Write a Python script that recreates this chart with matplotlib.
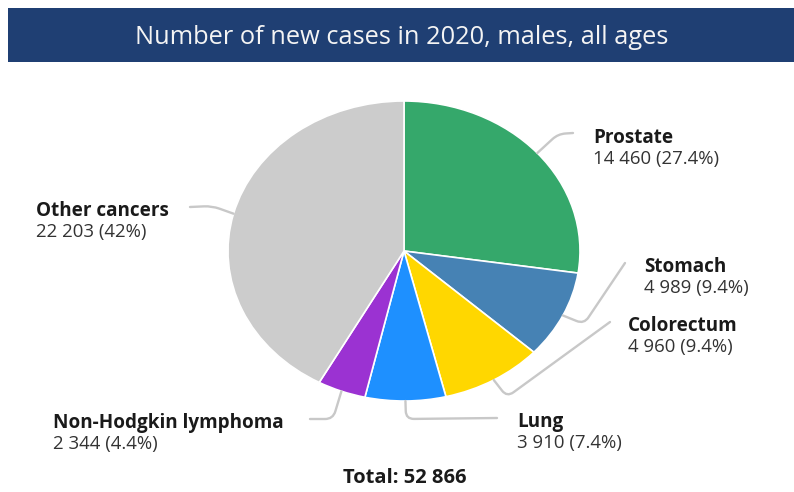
import matplotlib
matplotlib.use("Agg")
import matplotlib.pyplot as plt
import numpy as np
from matplotlib.path import Path
from matplotlib.patches import PathPatch, Rectangle

# Data
sites = ["Prostate", "Stomach", "Colorectum", "Lung", "Non-Hodgkin lymphoma", "Other cancers"]
cases = [14460, 4989, 4960, 3910, 2344, 22203]
shares = ["27.4%", "9.4%", "9.4%", "7.4%", "4.4%", "42%"]
colors = ["#35a86b", "#4682b4", "#ffd700", "#1e90ff", "#9b32d2", "#cccccc"]
title = "Number of new cases in 2020, males, all ages"

W, H = 794, 492
plt.rcParams["font.family"] = ["Open Sans", "DejaVu Sans"]
fig = plt.figure(figsize=(W / 100, H / 100), dpi=100)
fig.patch.set_facecolor("white")

# Pie (slightly wider than tall)
cx, cy, rx, ry = 404, 251, 176, 150
ax_pie = fig.add_axes([(cx - rx) / W, (H - cy - ry) / H, 2 * rx / W, 2 * ry / H])
wedges, _ = ax_pie.pie(cases, colors=colors, startangle=90, counterclock=False,
                       radius=1, wedgeprops=dict(edgecolor="white", linewidth=1.2))
ax_pie.set_aspect("auto")
ax_pie.set_xlim(-1, 1)
ax_pie.set_ylim(-1, 1)
ax_pie.axis("off")

# Pixel-space overlay for banner, connectors and labels
ov = fig.add_axes([0, 0, 1, 1], zorder=5)
ov.set_xlim(0, W)
ov.set_ylim(H, 0)
ov.axis("off")
ov.patch.set_alpha(0)

ov.add_patch(Rectangle((8, 8), W - 8, 54, facecolor="#1f3f73", edgecolor="none"))
ov.text(402, 37, title, color="#f4f4f4", fontsize=18.3, ha="center", va="center")


def rim_point(w):
    mid = np.deg2rad((w.theta1 + w.theta2) / 2)
    disp = ax_pie.transData.transform((np.cos(mid), np.sin(mid)))
    return ov.transData.inverted().transform(disp)


def connector(pts, r=8):
    """Polyline with rounded corners."""
    pts = [np.asarray(p, float) for p in pts]
    verts = [pts[0]]
    codes = [Path.MOVETO]
    for i in range(1, len(pts) - 1):
        a, b, c = pts[i - 1], pts[i], pts[i + 1]
        d1 = (a - b) / np.linalg.norm(a - b)
        d2 = (c - b) / np.linalg.norm(c - b)
        rr = min(r, np.linalg.norm(a - b) / 2, np.linalg.norm(c - b) / 2)
        verts += [b + d1 * rr, b, b + d2 * rr]
        codes += [Path.LINETO, Path.CURVE3, Path.CURVE3]
    verts.append(pts[-1])
    codes.append(Path.LINETO)
    ov.add_patch(PathPatch(Path(verts, codes), facecolor="none",
                           edgecolor="#c8c8c8", linewidth=1.7, capstyle="round"))


# connector routes (after the rim point) and label anchors
routes = [
    [(558, 134), (573, 133)],
    [(584, 324), (625, 263)],
    [(507, 397), (610, 322)],
    [(406, 419), (497, 418)],
    [(333, 419), (310, 419)],
    [(212, 206), (190, 207)],
]
label_xy = [(593, 138), (644, 267), (628, 326), (517, 422), (53, 423), (36, 211)]

for w, route, (lx, ly), name, n, s in zip(wedges, routes, label_xy, sites, cases, shares):
    connector([rim_point(w)] + route)
    ov.text(lx, ly, name, fontsize=13.6, fontweight="bold", color="#1a1a1a",
            ha="left", va="center")
    num = f"{n:,}".replace(",", " ")
    ov.text(lx, ly + 21, f"{num} ({s})", fontsize=13.4, color="#333333",
            ha="left", va="center")

total = f"{sum(cases):,}".replace(",", " ")
ov.text(405, 478, f"Total: {total}", fontsize=14.5, fontweight="bold",
        color="#1a1a1a", ha="center", va="center")

fig.savefig("out.png", dpi=100, facecolor="white")
